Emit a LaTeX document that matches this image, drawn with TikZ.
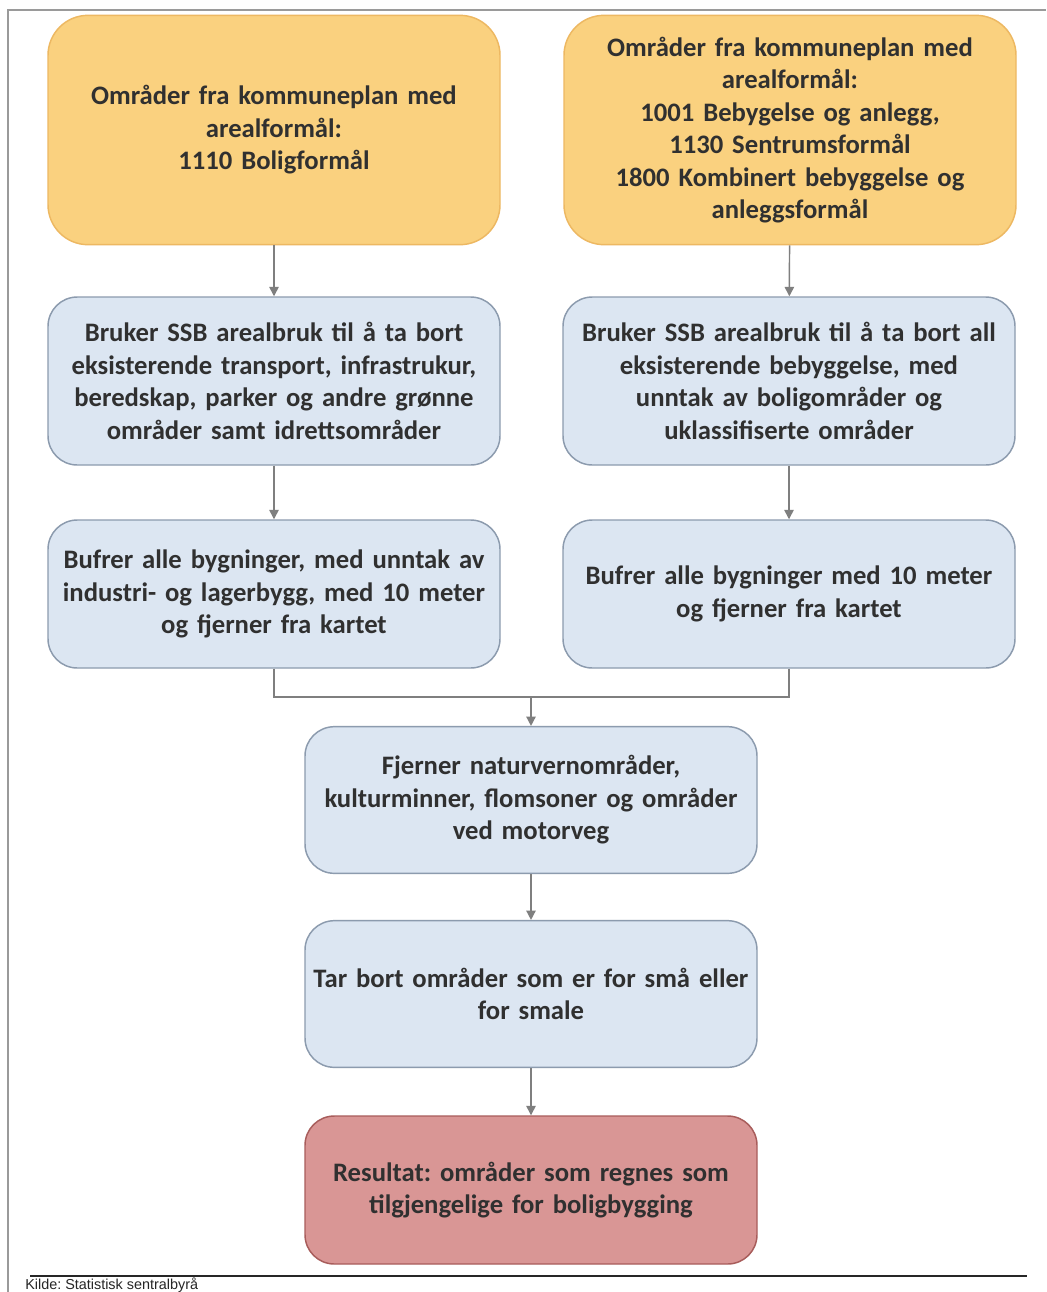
\documentclass[tikz,border=0pt]{standalone}
\usepackage{fontspec}
\setmainfont{Carlito}
\newfontfamily\kildefont{Liberation Sans}
\usetikzlibrary{arrows.meta}
\frenchspacing
\definecolor{orfill}{HTML}{FAD17F}
\definecolor{ordraw}{HTML}{EDB862}
\definecolor{blfill}{HTML}{DCE6F2}
\definecolor{bldraw}{HTML}{8C9BAE}
\definecolor{rdfill}{HTML}{D99695}
\definecolor{rddraw}{HTML}{A85D5B}
\definecolor{txt}{HTML}{303030}
\definecolor{conn}{HTML}{7F7F7F}
\definecolor{frame}{HTML}{9A9A9A}
\begin{document}
\begin{tikzpicture}[x=0.75pt,y=-0.75pt,
  box/.style={draw, line width=1.1pt, minimum width=339pt, text width=337pt,
    align=center, inner sep=0pt, text=txt,
    font=\fontsize{20}{24.4}\selectfont\bfseries},
  orbox/.style={box, fill=orfill, draw=ordraw, rounded corners=30pt, minimum height=172pt},
  blbox/.style={box, fill=blfill, draw=bldraw, rounded corners=22pt},
  rdbox/.style={box, fill=rdfill, draw=rddraw, rounded corners=22pt, minimum height=111pt},
  conn/.style={draw=conn, line width=1.1pt},
  arr/.style={conn, -{Triangle[length=7pt,width=7pt]}}]
\useasboundingbox (0,0) rectangle (1046,1292);
\fill[white] (0,0) rectangle (1046,1292);
% frame
\draw[frame, line width=1.5pt] (8,1292) -- (8,10) -- (1046,10);
% boxes
\node[orbox] (o1) at (274,130) {Områder fra kommuneplan med\\arealformål:\\1110 Boligformål};
\node[orbox] (o2) at (790,130) {Områder fra kommuneplan med\\arealformål:\\1001 Bebygelse og anlegg,\\1130 Sentrumsformål\\1800 Kombinert bebyggelse og\\anleggsformål};
\node[blbox, minimum height=126pt] (b1) at (274,381) {Bruker SSB arealbruk til å ta bort\\eksisterende transport, infrastrukur,\\beredskap, parker og andre grønne\\områder samt idrettsområder};
\node[blbox, minimum height=126pt] (b2) at (789,381) {Bruker SSB arealbruk til å ta bort all\\eksisterende bebyggelse, med\\unntak av boligområder og\\uklassifiserte områder};
\node[blbox, minimum height=111pt] (c1) at (274,594) {Bufrer alle bygninger, med unntak av\\industri- og lagerbygg, med 10 meter\\og fjerner fra kartet};
\node[blbox, minimum height=111pt] (c2) at (789,594) {Bufrer alle bygninger med 10 meter\\og fjerner fra kartet};
\node[blbox, minimum height=110pt] (d) at (531,800) {Fjerner naturvernområder,\\kulturminner, flomsoner og områder\\ved motorveg};
\node[blbox, minimum height=110pt] (e) at (531,994) {Tar bort områder som er for små eller\\for smale};
\node[rdbox] (r) at (531,1190) {Resultat: områder som regnes som\\tilgjengelige for boligbygging};
% connectors
\draw[arr] (o1) -- (b1);
\draw[arr] (o2) -- (b2);
\draw[arr] (b1) -- (c1);
\draw[arr] (b2) -- (c2);
\coordinate (j) at (531,697);
\draw[conn] (c1.south) |- (j);
\draw[conn] (c2.south) |- (j);
\draw[arr] (j) -- (d.north);
\draw[arr] (d) -- (e);
\draw[arr] (e) -- (r);
% footer
\draw[black!85, line width=1.5pt] (30,1276) -- (1027,1276);
\node[anchor=north west, inner sep=0pt, font=\kildefont\fontsize{10.8}{12}\selectfont, text=black!85] (kilde) at (25,1277.5) {Kilde: Statistisk sentralbyrå};
\end{tikzpicture}
\end{document}
